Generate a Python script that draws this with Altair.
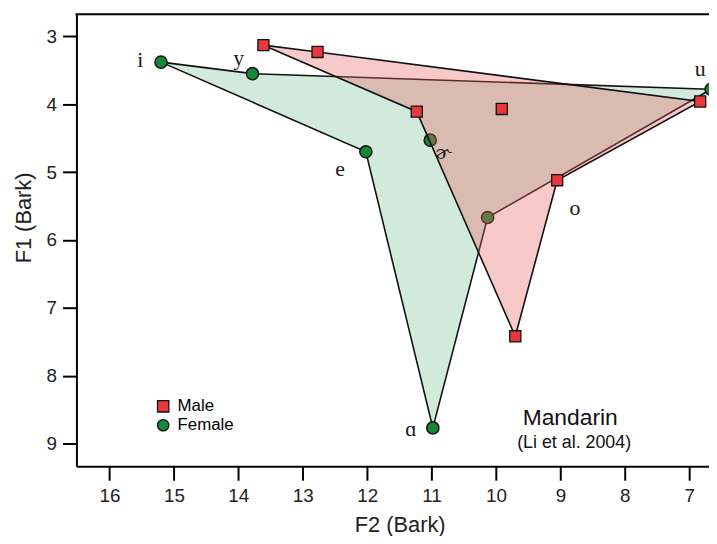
import altair as alt
import pandas as pd

# ---- data ----
vowels = ["i", "y", "e", "ɚ", "u", "o", "ɑ"]
male_f2 = [13.61, 12.77, 11.23, 9.91, 6.83, 9.05, 9.70]
male_f1 = [3.13, 3.23, 4.11, 4.07, 3.96, 5.12, 7.42]
female_f2 = [15.20, 13.78, 12.02, 11.02, 6.66, 10.13, 10.98]
female_f1 = [3.38, 3.55, 4.70, 4.53, 3.78, 5.67, 8.77]
hull_order = ["i", "y", "u", "o", "ɑ", "e"]
x_ticks = [16, 15, 14, 13, 12, 11, 10, 9, 8, 7]
y_ticks = [3, 4, 5, 6, 7, 8, 9]
groups = ["Male", "Female"]
note_title = "Mandarin"
note_source = "(Li et al. 2004)"

rows = []
for sex, f2s, f1s in [("Male", male_f2, male_f1), ("Female", female_f2, female_f1)]:
    for v, a, b in zip(vowels, f2s, f1s):
        rows.append({"sex": sex, "vowel": v, "F2": a, "F1": b,
                     "k": hull_order.index(v) if v in hull_order else -1})
df = pd.DataFrame(rows)
one = pd.DataFrame({"t": [note_title], "s": [note_source]})

W, H = 638, 456
FONT = "Liberation Sans"
SERIF = "Liberation Serif, DejaVu Serif, serif"

xscale = alt.Scale(domain=[16.513, 16.513 - W / 64.97], nice=False, zero=False)
yscale = alt.Scale(domain=[2.674, 9.336], reverse=True, nice=False, zero=False)

X = alt.X("F2:Q", scale=xscale,
          axis=alt.Axis(values=x_ticks, title="F2 (Bark)", titleX=326, titleY=66,
                        titleBaseline="alphabetic", titleAlign="center"))
Y = alt.Y("F1:Q", scale=yscale,
          axis=alt.Axis(values=y_ticks, title="F1 (Bark)", titleX=-46, titleY=205,
                        titleAngle=-90, titleBaseline="alphabetic", titleAlign="center"))

color = alt.Color("sex:N", scale=alt.Scale(domain=groups, range=["#e8383c", "#14883a"]),
                  legend=alt.Legend(title=None, orient="none", legendX=79, legendY=387,
                                    symbolSize=130, symbolStrokeColor="black",
                                    symbolStrokeWidth=1.3, labelFontSize=17, labelFont=FONT,
                                    labelColor="black", labelOffset=6, rowPadding=1,
                                    padding=0, symbolOpacity=1))
shape = alt.Shape("sex:N", scale=alt.Scale(domain=groups, range=["square", "circle"]))

base = alt.Chart(df)

female_hull = base.transform_filter("datum.sex == 'Female' && datum.k >= 0").mark_line(
    interpolate="linear-closed", fill="#1e9650", fillOpacity=0.2,
    stroke="#111111", strokeWidth=1.6).encode(x=X, y=Y, order=alt.Order("k:Q"))
male_hull = base.transform_filter("datum.sex == 'Male' && datum.k >= 0").mark_line(
    interpolate="linear-closed", fill="#e86464", fillOpacity=0.35,
    stroke="#111111", strokeWidth=1.6).encode(x=X, y=Y, order=alt.Order("k:Q"))

female_pts = base.transform_filter("datum.sex == 'Female'").mark_point(
    filled=True, size=150, stroke="#111111", strokeWidth=1.5, opacity=1).encode(
    x=X, y=Y, color=color, shape=shape)
male_pts = base.transform_filter("datum.sex == 'Male'").mark_point(
    filled=True, size=125, stroke="#111111", strokeWidth=1.3, opacity=1).encode(
    x=X, y=Y, color=color, shape=shape)

# label offsets (style) relative to the female points, or male for 'o'
label_offsets = {"i": (-21, 5, "Female"), "y": (-14, -9, "Female"), "e": (-26, 25, "Female"),
                 "ɚ": (13, 19, "Female"), "u": (-11, -13, "Female"), "o": (18, 35, "Male"),
                 "ɑ": (-22, 8, "Female")}
labels = []
for v, (dx, dy, sx) in label_offsets.items():
    labels.append(base.transform_filter(f"datum.sex == '{sx}' && datum.vowel == '{v}'").mark_text(
        dx=dx, dy=dy, baseline="alphabetic", align="center",
        font=SERIF if v != "ɚ" else "DejaVu Serif, serif",
        fontSize=22 if v != "ɚ" else 19, color="#1a1a1a").encode(x=X, y=Y, text="vowel:N"))

top_border = alt.Chart(one).mark_rule(color="black", strokeWidth=2).encode(
    x=alt.value(-1), x2=alt.value(W), y=alt.value(0))

title1 = alt.Chart(one).mark_text(font=FONT, fontSize=23, color="#111111",
                                  baseline="alphabetic", align="center").encode(
    x=alt.value(498), y=alt.value(414), text="t:N")
title2 = alt.Chart(one).mark_text(font=FONT, fontSize=18, color="#111111",
                                  baseline="alphabetic", align="center").encode(
    x=alt.value(502), y=alt.value(438), text="s:N")

chart = alt.layer(female_hull, female_pts, male_hull, male_pts, *labels, top_border, title1, title2).properties(
    width=W, height=H,
    autosize=alt.AutoSizeParams(type="none"),
    padding={"left": 69, "top": 4, "right": 0, "bottom": 68},
).configure_view(stroke=None).configure_axis(
    grid=False, domainColor="black", domainWidth=2, tickColor="black", tickWidth=2, tickSize=14,
    labelFont=FONT, labelFontSize=19, labelColor="#222222", labelPadding=6,
    titleFont=FONT, titleFontSize=22, titleFontWeight="normal", titleColor="#222222",
)

chart.save("out.html", embed_options={"renderer": "svg", "actions": False})
